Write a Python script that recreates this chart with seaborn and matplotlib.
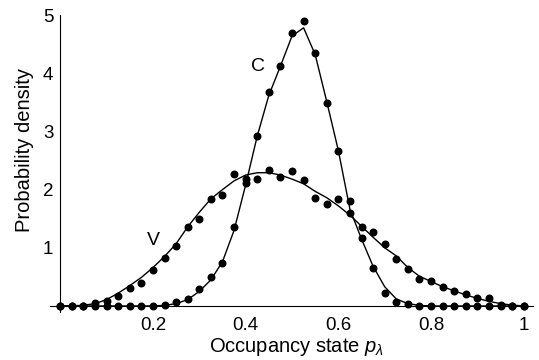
import matplotlib
matplotlib.use("Agg")
import matplotlib.pyplot as plt
import seaborn as sns
import pandas as pd
from matplotlib.ticker import FixedLocator

# ---------------- data ----------------
occupancy = [0.0, 0.025, 0.05, 0.075, 0.1, 0.125, 0.15, 0.175, 0.2, 0.225,
             0.25, 0.275, 0.3, 0.325, 0.35, 0.375, 0.4, 0.425, 0.45, 0.475,
             0.5, 0.525, 0.55, 0.575, 0.6, 0.625, 0.65, 0.675, 0.7, 0.725,
             0.75, 0.775, 0.8, 0.825, 0.85, 0.875, 0.9, 0.925, 0.95, 0.975, 1.0]

# measured densities (dots)
v_points = [0, 0, 0, 0.05, 0.09, 0.18, 0.31, 0.40, 0.62, 0.83,
            1.03, 1.36, 1.49, 1.84, 1.91, 2.27, 2.19, 2.19, 2.34, 2.22,
            2.32, 2.17, 1.86, 1.76, 1.83, 1.81, 1.36, 1.27, 1.07, 0.81,
            0.63, 0.46, 0.43, 0.32, 0.25, 0.21, 0.13, 0.13, 0.02, 0, 0]
c_points = [0, 0, 0, 0, 0, 0, 0, 0, 0, 0.01,
            0.06, 0.12, 0.29, 0.49, 0.74, 1.35, 2.11, 2.92, 3.68, 4.13,
            4.69, 4.89, 4.35, 3.49, 2.67, 1.59, 1.17, 0.66, 0.22, 0.06,
            0.04, 0, 0, 0, 0, 0, 0, 0, 0, 0, 0]

# fitted curves (solid lines)
v_curve = [0, 0.003, 0.012, 0.04, 0.11, 0.22, 0.35, 0.49, 0.66, 0.85,
           1.07, 1.36, 1.61, 1.84, 2.0, 2.15, 2.25, 2.29, 2.29, 2.25,
           2.18, 2.1, 1.97, 1.86, 1.72, 1.56, 1.37, 1.18, 1.0, 0.86,
           0.66, 0.51, 0.42, 0.33, 0.26, 0.19, 0.13, 0.08, 0.04, 0.015, 0]
c_curve = [0, 0, 0, 0, 0, 0, 0, 0, 0.002, 0.01,
           0.04, 0.11, 0.25, 0.45, 0.76, 1.3, 2.08, 2.92, 3.62, 4.12,
           4.64, 4.78, 4.32, 3.51, 2.67, 1.66, 1.15, 0.68, 0.33, 0.12,
           0.04, 0.01, 0, 0, 0, 0, 0, 0, 0, 0, 0]

x_ticks = [0.2, 0.4, 0.6, 0.8, 1.0]
x_tick_labels = ["0.2", "0.4", "0.6", "0.8", "1"]
y_ticks = [1, 2, 3, 4, 5]
y_tick_labels = ["1", "2", "3", "4", "5"]

pts = pd.DataFrame({"x": occupancy * 2,
                    "y": v_points + c_points,
                    "series": ["V"] * len(occupancy) + ["C"] * len(occupancy)})
curves = pd.DataFrame({"x": occupancy * 2,
                       "y": v_curve + c_curve,
                       "series": ["V"] * len(occupancy) + ["C"] * len(occupancy)})

# ---------------- style ----------------
sns.set_theme(style="white")
plt.rcParams["font.family"] = ["Liberation Sans", "DejaVu Sans"]
plt.rcParams["mathtext.fontset"] = "custom"
plt.rcParams["mathtext.rm"] = "Liberation Sans"
plt.rcParams["mathtext.it"] = "Liberation Sans:italic"
plt.rcParams["text.color"] = "black"
plt.rcParams["axes.labelcolor"] = "black"

fig = plt.figure(figsize=(5.39, 3.60), dpi=100)
ax = fig.add_axes([0.0928, 0.1339, 0.8962, 0.8244])

sns.lineplot(data=curves, x="x", y="y", units="series", estimator=None,
             color="black", linewidth=1.0, sort=False, ax=ax, zorder=2,
             legend=False)
sns.scatterplot(data=pts, x="x", y="y", color="black", s=33, linewidth=0,
                ax=ax, zorder=3, legend=False)

ax.set_xlim(-0.022, 1.02)
ax.set_ylim(-0.1, 5.0)

for side in ["top", "right"]:
    ax.spines[side].set_visible(False)
ax.spines["left"].set_position(("data", 0))
ax.spines["bottom"].set_position(("data", 0))
for side in ["left", "bottom"]:
    ax.spines[side].set_color("black")
    ax.spines[side].set_linewidth(0.8)

ax.set_xticks(x_ticks)
ax.set_xticklabels(x_tick_labels)
ax.set_yticks(y_ticks)
ax.set_yticklabels(y_tick_labels)
ax.xaxis.set_minor_locator(FixedLocator([t / 100 for t in range(5, 100, 5)]))
ax.yaxis.set_minor_locator(FixedLocator([t / 10 for t in range(2, 50, 2)]))
ax.tick_params(which="both", direction="in", color="black", labelsize=13.5,
               labelcolor="black")
ax.tick_params(which="major", length=3.2, width=0.8)
ax.tick_params(which="minor", length=1.6, width=0.6)
ax.tick_params(axis="x", which="major", pad=8)
ax.tick_params(axis="y", which="major", pad=5)

ax.set_xlabel(r"Occupancy state $p_\lambda$", fontsize=14.5, color="black")
ax.set_ylabel("Probability density", fontsize=14.5, color="black")
ax.xaxis.set_label_coords(0.51, -0.08)
ax.yaxis.set_label_coords(-0.033, 0.545)

ax.text(0.4265, 4.11, "C", fontsize=14, ha="center", va="center", color="black")
ax.text(0.200, 1.13, "V", fontsize=14, ha="center", va="center", color="black")

fig.savefig("out.png", dpi=100)
